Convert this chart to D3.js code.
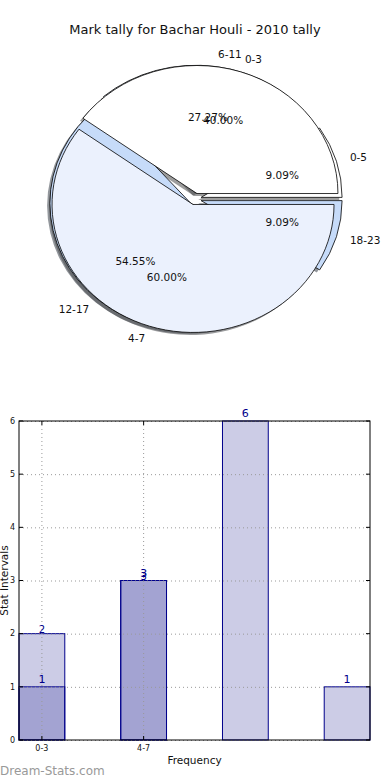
<!DOCTYPE html>
<html>
<head>
<meta charset="utf-8">
<script src="https://cdn.jsdelivr.net/npm/d3@7"></script>
<style>
  body { margin: 0; background: #fff; }
  text { font-family: "DejaVu Sans", sans-serif; }
</style>
</head>
<body>
<div id="chart"></div>
<script>
// pie data (two pies drawn over each other)
const pieLabelsA = ["0-3", "4-7"];
const pieValuesA = [2, 3];
const pieLabelsB = ["0-5", "6-11", "12-17", "18-23"];
const pieValuesB = [1, 3, 6, 1];

// bar data
const barValuesA = [2, 3];
const barValuesB = [1, 3, 6, 1];
const xTickLabels = ["0-3", "4-7"];

const pieColorsA = ["#ffffff", "#ebf1fd"];
const pieColorsB = ["#ffffff", "#ebf1fd", "#c6dbf9", "#c6dbf9"];

const width = 390, height = 780;
const svg = d3.select("#chart").append("svg")
  .attr("width", width)
  .attr("height", height);

// title
svg.append("text")
  .attr("x", 195).attr("y", 34)
  .attr("text-anchor", "middle")
  .attr("font-size", 13)
  .attr("fill", "#111")
  .text("Mark tally for Bachar Houli - 2010 tally");

// ---- pie ----
const cx = 195, cy = 199, rx = 141, ry = 128, explode = 0.045;
const arc = d3.arc().innerRadius(0).outerRadius(1);
const pie = d3.pie().sort(null)
  .startAngle(Math.PI / 2)
  .endAngle(Math.PI / 2 - 2 * Math.PI);

const shadowLayer = svg.append("g");
const wedgeLayer = svg.append("g");
const textLayer = svg.append("g");

function drawPie(values, labels, colors) {
  const total = d3.sum(values);
  const arcs = pie(values);
  arcs.forEach((d, i) => {
    const theta = Math.PI / 2 - (d.startAngle + d.endAngle) / 2;
    const c = Math.cos(theta), s = Math.sin(theta);
    const ox = cx + explode * rx * c, oy = cy - explode * ry * s;
    const col = d3.color(colors[i]);

    // shadow, offset down-left like matplotlib
    shadowLayer.append("path")
      .attr("d", arc(d))
      .attr("transform", `translate(${ox - 0.02 * rx},${oy + 0.02 * ry}) scale(${rx},${ry})`)
      .attr("fill", d3.rgb(col.r * 0.3, col.g * 0.3, col.b * 0.3))
      .attr("fill-opacity", 0.55);

    wedgeLayer.append("path")
      .attr("d", arc(d))
      .attr("transform", `translate(${ox},${oy}) scale(${rx},${ry})`)
      .attr("fill", colors[i])
      .attr("stroke", "#000")
      .attr("stroke-width", 0.8)
      .attr("vector-effect", "non-scaling-stroke");

    textLayer.append("text")
      .attr("x", ox + 1.1 * rx * c)
      .attr("y", oy - 1.1 * ry * s)
      .attr("dy", "0.35em")
      .attr("text-anchor", c > 0 ? "start" : "end")
      .attr("font-size", 10.5)
      .attr("fill", "#111")
      .text(labels[i]);

    textLayer.append("text")
      .attr("x", ox + 0.6 * rx * c)
      .attr("y", oy - 0.6 * ry * s)
      .attr("dy", "0.35em")
      .attr("text-anchor", "middle")
      .attr("font-size", 10.5)
      .attr("fill", "#111")
      .text((d.value / total * 100).toFixed(2) + "%");
  });
}

drawPie(pieValuesB, pieLabelsB, pieColorsB);
drawPie(pieValuesA, pieLabelsA, pieColorsA);

// ---- bars ----
const plotLeft = 19, plotRight = 370, plotTop = 421, plotBottom = 740;
const barW = 0.45;
const x = d3.scaleLinear().domain([0, 3.45]).range([plotLeft, plotRight]);
const y = d3.scaleLinear().domain([0, 6]).range([plotBottom, plotTop]);

const bars = svg.append("g");
function drawBars(values) {
  bars.selectAll(null)
    .data(values)
    .enter().append("rect")
    .attr("x", (d, i) => x(i))
    .attr("y", d => y(d))
    .attr("width", x(barW) - x(0))
    .attr("height", d => y(0) - y(d))
    .attr("fill", "rgba(0,0,128,0.2)")
    .attr("stroke", "#00008b")
    .attr("stroke-width", 1);
}
drawBars(barValuesA);
drawBars(barValuesB);

// grid (dotted, on top of bars)
const grid = svg.append("g")
  .attr("stroke", "#999")
  .attr("stroke-width", 1)
  .attr("stroke-dasharray", "1,3");
grid.selectAll(null).data(y.ticks(6)).enter().append("line")
  .attr("x1", plotLeft).attr("x2", plotRight)
  .attr("y1", d => y(d) + 0.5).attr("y2", d => y(d) + 0.5);
grid.selectAll(null).data(xTickLabels).enter().append("line")
  .attr("x1", (d, i) => x(i + barW / 2)).attr("x2", (d, i) => x(i + barW / 2))
  .attr("y1", plotTop).attr("y2", plotBottom);

// frame
svg.append("rect")
  .attr("x", plotLeft).attr("y", plotTop)
  .attr("width", plotRight - plotLeft).attr("height", plotBottom - plotTop)
  .attr("fill", "none").attr("stroke", "#000").attr("stroke-width", 1);

// y ticks both sides, pointing in
const yTicks = svg.append("g");
y.ticks(6).forEach(t => {
  yTicks.append("line").attr("x1", plotLeft).attr("x2", plotLeft + 4)
    .attr("y1", y(t)).attr("y2", y(t)).attr("stroke", "#000");
  yTicks.append("line").attr("x1", plotRight - 4).attr("x2", plotRight)
    .attr("y1", y(t)).attr("y2", y(t)).attr("stroke", "#000");
  yTicks.append("text")
    .attr("x", plotLeft - 4).attr("y", y(t)).attr("dy", "0.35em")
    .attr("text-anchor", "end").attr("font-size", 8).attr("fill", "#111")
    .text(t);
});

// x ticks
xTickLabels.forEach((lab, i) => {
  const xp = x(i + barW / 2);
  svg.append("line").attr("x1", xp).attr("x2", xp)
    .attr("y1", plotBottom).attr("y2", plotBottom - 4).attr("stroke", "#000");
  svg.append("line").attr("x1", xp).attr("x2", xp)
    .attr("y1", plotTop).attr("y2", plotTop + 4).attr("stroke", "#000");
  svg.append("text")
    .attr("x", xp).attr("y", plotBottom + 11)
    .attr("text-anchor", "middle").attr("font-size", 8).attr("fill", "#111")
    .text(lab);
});

// value labels
barValuesA.forEach((v, i) => {
  svg.append("text")
    .attr("x", x(i + barW / 2)).attr("y", y(v) - 1)
    .attr("text-anchor", "middle").attr("font-size", 10)
    .attr("fill", "#00008b").text(v);
});
barValuesB.forEach((v, i) => {
  svg.append("text")
    .attr("x", x(i + barW / 2)).attr("y", y(v) - 4)
    .attr("text-anchor", "middle").attr("font-size", 11)
    .attr("fill", "#00008b").text(v);
});

// axis labels
svg.append("text")
  .attr("x", (plotLeft + plotRight) / 2).attr("y", 764)
  .attr("text-anchor", "middle").attr("font-size", 10.5).attr("fill", "#111")
  .text("Frequency");
svg.append("text")
  .attr("transform", `translate(8,${(plotTop + plotBottom) / 2}) rotate(-90)`)
  .attr("text-anchor", "middle").attr("font-size", 10.5).attr("fill", "#111")
  .text("Stat Intervals");

// watermark
svg.append("text")
  .attr("x", 0).attr("y", 775)
  .attr("font-size", 12).attr("fill", "#999")
  .text("Dream-Stats.com");
</script>
</body>
</html>
